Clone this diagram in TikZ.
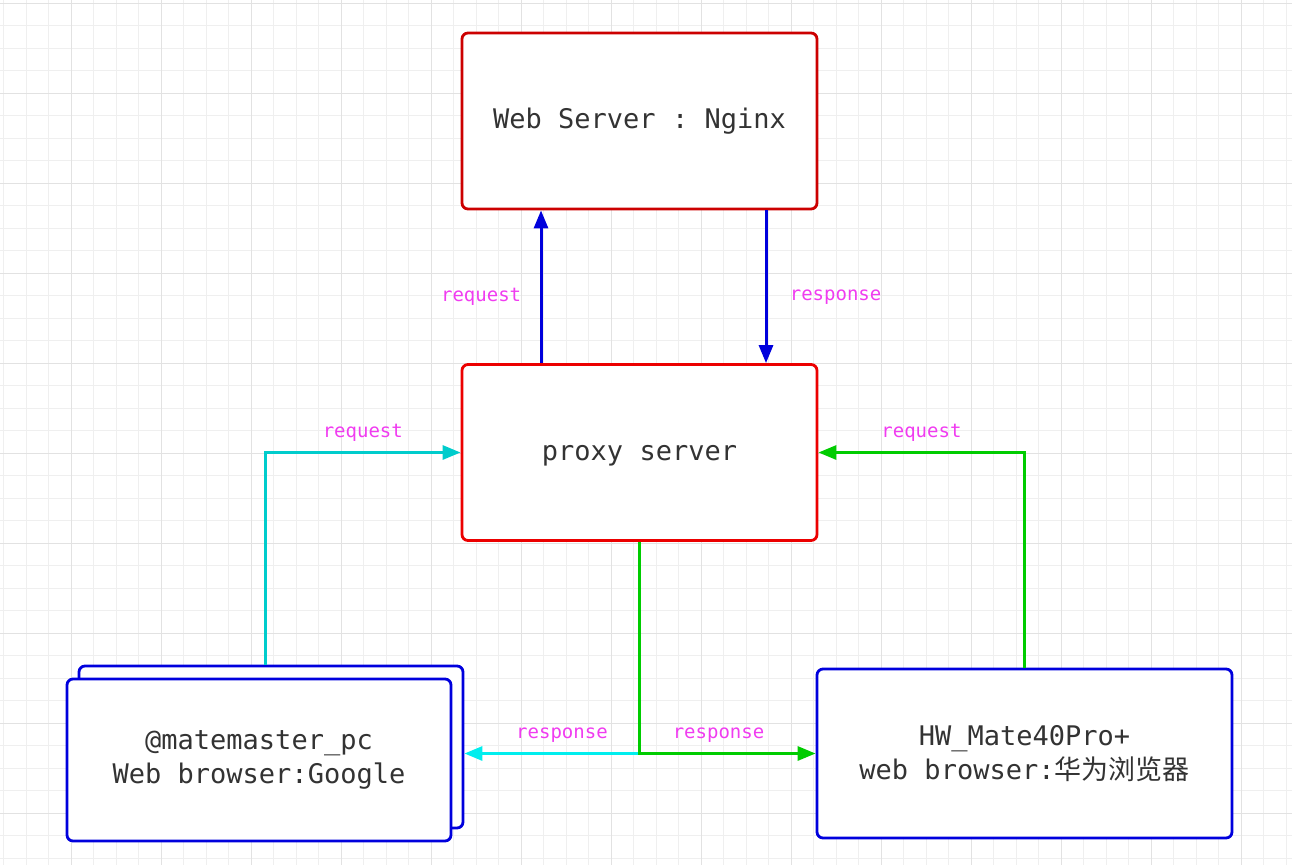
\documentclass[tikz,border=0pt]{standalone}
\usepackage{fontspec}
\setmonofont{DejaVu Sans Mono}
\newfontfamily\cjk{Noto Sans CJK SC}
\usepackage{tikz}
\usetikzlibrary{arrows.meta}
\usetikzlibrary{shadows}

\definecolor{gridminor}{RGB}{239,239,239}
\definecolor{gridmajor}{RGB}{226,226,226}
\definecolor{webred}{RGB}{204,0,0}
\definecolor{proxyred}{RGB}{236,0,0}
\definecolor{boxblue}{RGB}{0,0,221}
\definecolor{arrowblue}{RGB}{0,0,220}
\definecolor{reqcyan}{RGB}{0,204,204}
\definecolor{respcyan}{RGB}{0,238,238}
\definecolor{linkgreen}{RGB}{0,204,0}
\definecolor{lblpink}{RGB}{240,60,240}
\definecolor{textgray}{RGB}{51,51,51}

\tikzset{
  box/.style={rounded corners=6pt, line width=2.8pt, fill=white, text=textgray,
    align=center, font=\ttfamily\fontsize{27}{34}\selectfont},
  server/.style={box, minimum width=355pt, minimum height=176pt},
  client/.style={box, draw=boxblue},
  lbl/.style={text=lblpink, font=\ttfamily\fontsize{19}{22}\selectfont},
  link/.style={line width=3pt, -{Triangle[length=18pt,width=14pt]}},
}

\begin{document}
\begin{tikzpicture}[x=1pt,y=-1pt]
  \useasboundingbox (0,0) rectangle (1292,865);
  % grid
  \foreach \gx in {3.5,26,...,1292}
    \draw[gridminor, line width=1pt] (\gx,0) -- (\gx,865);
  \foreach \gy in {3,25.5,...,865}
    \draw[gridminor, line width=1pt] (0,\gy) -- (1292,\gy);
  \foreach \gx in {71,161,...,1292}
    \draw[gridmajor, line width=1pt] (\gx,0) -- (\gx,865);
  \foreach \gy in {3,93,...,865}
    \draw[gridmajor, line width=1pt] (0,\gy) -- (1292,\gy);

  \node[server, draw=webred] (web) at (639.5,121) {Web Server : Nginx};
  \node[server, draw=proxyred, text depth=0pt] (proxy) at (639.5,452.5) {proxy server};
  \node[client, minimum width=384pt, minimum height=162pt,
    copy shadow={shadow xshift=12pt, shadow yshift=13pt, fill=white, draw=boxblue, line width=2.8pt}]
    (pc) at (259,760) {@matemaster\_pc\\Web browser:Google};
  \node[client, minimum width=415pt, minimum height=169pt]
    (phone) at (1024.5,753.5) {HW\_Mate40Pro+\\web browser:{\cjk 华为浏览器}};

  \coordinate (pcback) at ([xshift=12pt]pc.east);
  \coordinate (split) at (proxy.south |- phone.west);

  \draw[link, arrowblue] ([xshift=-98.5pt]proxy.north) -- ([xshift=-98.5pt]web.south)
    node[lbl, midway, left=15pt, yshift=-10pt] {request};
  \draw[link, arrowblue] ([xshift=126.5pt]web.south) -- ([xshift=126.5pt]proxy.north)
    node[lbl, midway, right=19pt, yshift=-10pt] {response};

  \draw[link, reqcyan] ([xshift=6pt, yshift=13pt]pc.north) |- (proxy.west)
    node[lbl, pos=0.75, above=6pt] {request};
  \draw[link, linkgreen] (phone.north) |- (proxy.east)
    node[lbl, pos=0.75, above=6pt] {request};

  \draw[link, respcyan] (split) -- (split -| pcback)
    node[lbl, midway, above=6pt, xshift=10pt] {response};
  \draw[link, linkgreen] (proxy.south) |- (phone.west)
    node[lbl, pos=0.75, above=6pt, xshift=-9pt] {response};
\end{tikzpicture}
\end{document}
